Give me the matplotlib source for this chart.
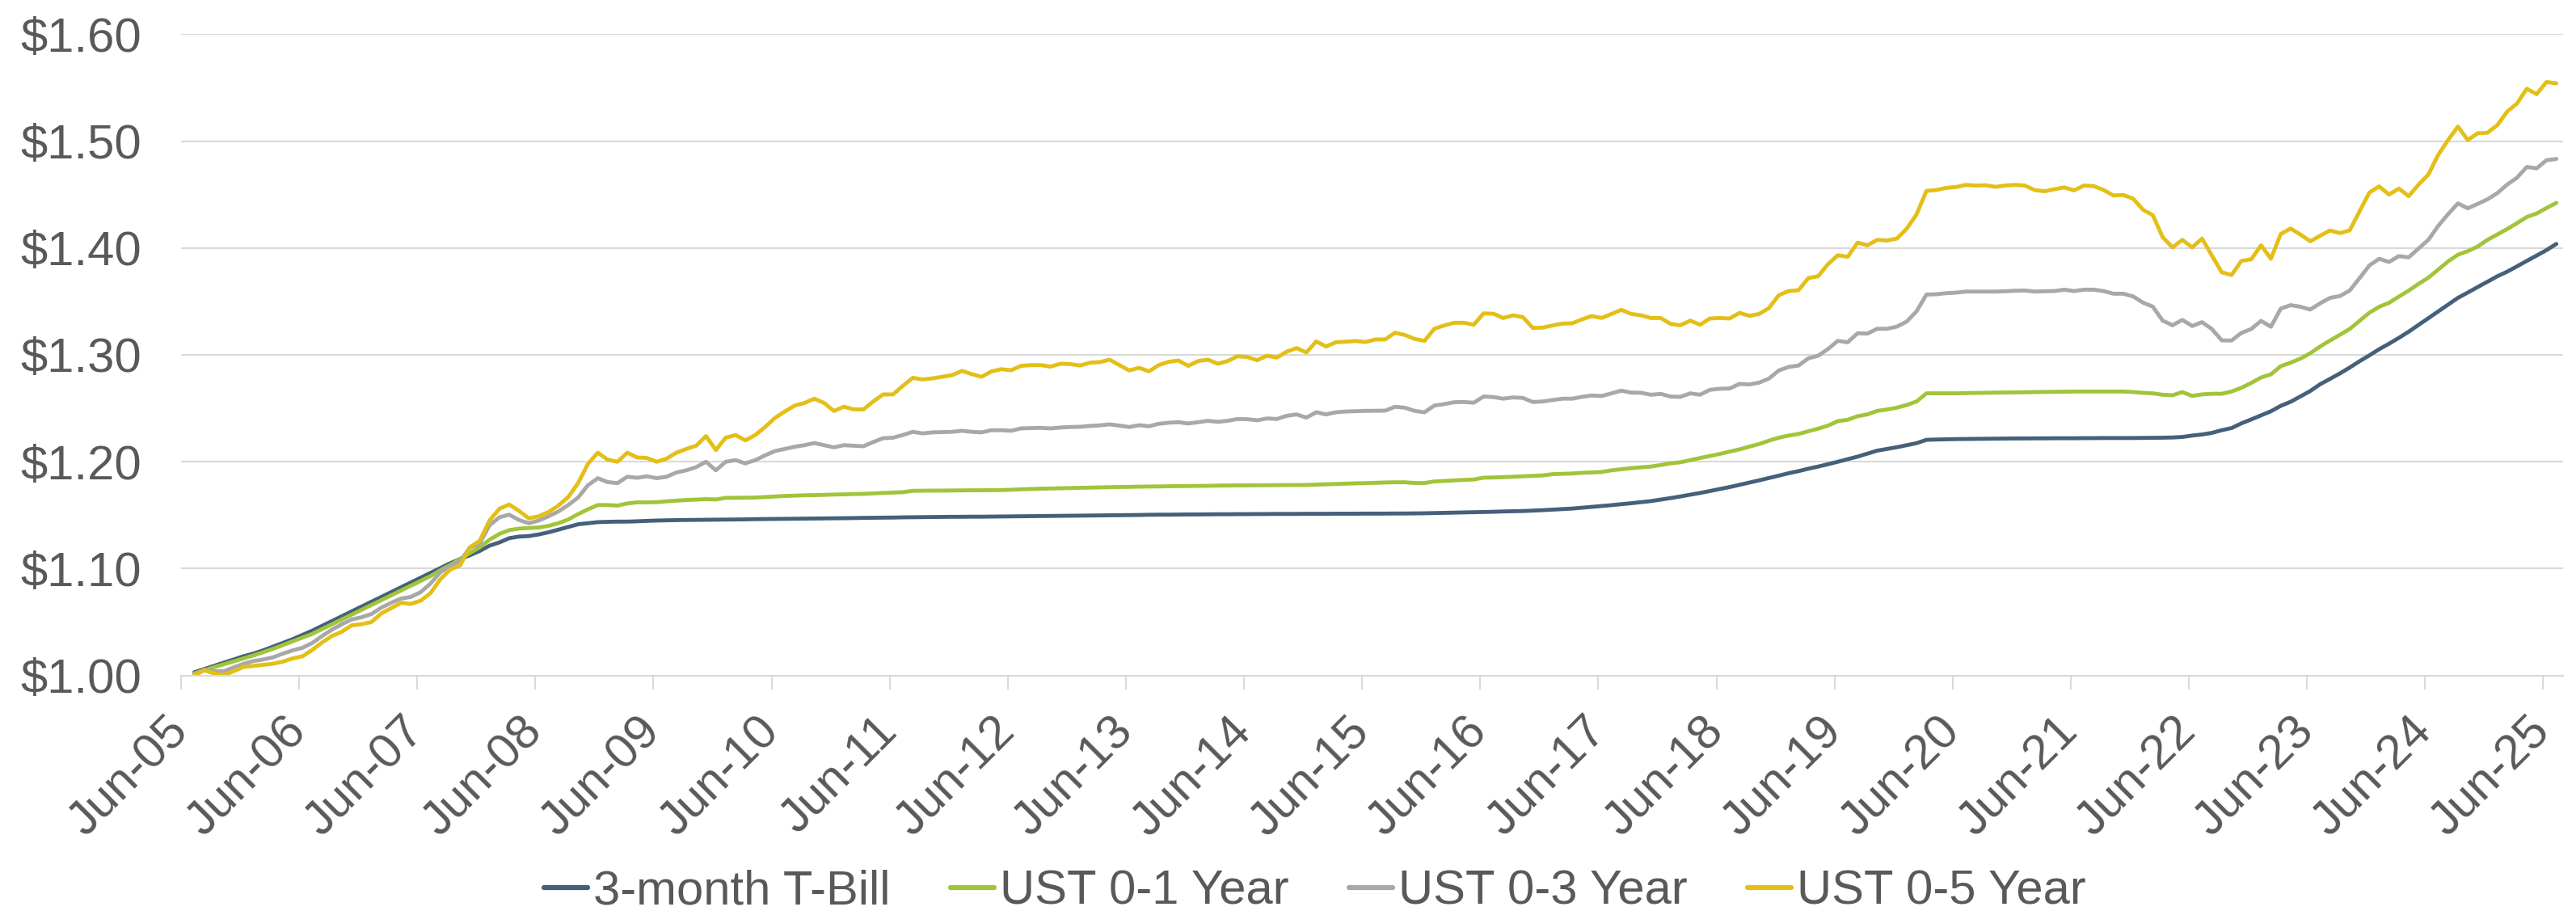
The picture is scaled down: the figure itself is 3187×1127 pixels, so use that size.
import numpy as np
import matplotlib
matplotlib.use("Agg")
import matplotlib.pyplot as plt
from matplotlib.ticker import FuncFormatter

plt.rcParams['font.family'] = ['Liberation Sans', 'DejaVu Sans']

# monthly growth of $1, Jul-05 .. Jul-25
tbill_3m = [
    1.003, 1.006, 1.009, 1.012, 1.015, 1.018, 1.0205, 1.0235, 1.027, 1.0305, 1.034, 1.038,
    1.042, 1.0465, 1.051, 1.0555, 1.060, 1.0645, 1.069, 1.0735, 1.078, 1.0825, 1.087, 1.0915,
    1.096, 1.1005, 1.105, 1.109, 1.1125, 1.1165, 1.1215, 1.1245, 1.1285, 1.130, 1.1305, 1.132,
    1.134, 1.1365, 1.139, 1.1415, 1.1425, 1.1435, 1.1438, 1.144, 1.144, 1.1443, 1.1447, 1.145,
    1.1452, 1.1454, 1.1455, 1.1456, 1.1457, 1.1458, 1.1459, 1.146, 1.1461, 1.1463, 1.1464, 1.1465,
    1.1466, 1.1467, 1.1468, 1.1469, 1.147, 1.1471, 1.1472, 1.1473, 1.1475, 1.1476, 1.1477, 1.1478,
    1.148, 1.1481, 1.1482, 1.1483, 1.1484, 1.1485, 1.1485, 1.1486, 1.1486, 1.1487, 1.1488, 1.1489,
    1.149, 1.1491, 1.1492, 1.1493, 1.1494, 1.1495, 1.1496, 1.1497, 1.1498, 1.1499, 1.15, 1.1501,
    1.1502, 1.1504, 1.1505, 1.1505, 1.1506, 1.1507, 1.1507, 1.1508, 1.1509, 1.1509, 1.151, 1.151,
    1.1511, 1.1511, 1.1512, 1.1512, 1.1512, 1.1513, 1.1513, 1.1513, 1.1514, 1.1514, 1.1514, 1.1515,
    1.1515, 1.1515, 1.1516, 1.1516, 1.1517, 1.1518, 1.152, 1.1522, 1.1524, 1.1526, 1.1528, 1.153,
    1.1532, 1.1535, 1.1537, 1.1539, 1.1543, 1.1547, 1.1552, 1.1557, 1.1562, 1.157, 1.1578, 1.1586,
    1.1594, 1.1603, 1.1612, 1.1622, 1.1632, 1.1646, 1.166, 1.1675, 1.1692, 1.1708, 1.1726, 1.1745,
    1.1763, 1.1784, 1.1805, 1.1826, 1.1848, 1.187, 1.1893, 1.1912, 1.1935, 1.1955, 1.1977, 1.2,
    1.2024, 1.2048, 1.2076, 1.2104, 1.212, 1.2136, 1.2155, 1.2174, 1.2205, 1.2208, 1.221, 1.2212,
    1.2213, 1.2214, 1.2215, 1.2216, 1.2217, 1.2218, 1.2218, 1.2219, 1.2219, 1.222, 1.222, 1.222,
    1.2221, 1.2221, 1.2222, 1.2222, 1.2222, 1.2222, 1.2223, 1.2224, 1.2225, 1.2227, 1.2232, 1.2245,
    1.2255, 1.227, 1.2295, 1.2315, 1.2359, 1.2396, 1.2434, 1.2472, 1.2523, 1.2561, 1.2611, 1.2662,
    1.2725, 1.2775, 1.2826, 1.2881, 1.294, 1.2995, 1.3053, 1.3104, 1.3159, 1.3217, 1.328, 1.3343,
    1.3407, 1.347, 1.3533, 1.3583, 1.3634, 1.3684, 1.3735, 1.3778, 1.3828, 1.3879, 1.3929, 1.398,
    1.4038,
]

ust_0_1 = [
    1.002, 1.005, 1.0078, 1.0105, 1.0133, 1.016, 1.0188, 1.0218, 1.025, 1.0285, 1.032, 1.0355,
    1.039, 1.0435, 1.048, 1.0525, 1.057, 1.0615, 1.066, 1.0705, 1.075, 1.0795, 1.084, 1.0885,
    1.093, 1.0985, 1.1035, 1.109, 1.1145, 1.12, 1.127, 1.1325, 1.136, 1.1375, 1.138, 1.1385,
    1.140, 1.1425, 1.146, 1.151, 1.1555, 1.1595, 1.1595, 1.159, 1.161, 1.162, 1.162, 1.1622,
    1.163, 1.1636, 1.1642, 1.1646, 1.165, 1.1647, 1.1662, 1.1663, 1.1664, 1.1665, 1.167, 1.1675,
    1.168, 1.1683, 1.1686, 1.1688, 1.169, 1.1693, 1.1695, 1.1698, 1.170, 1.1704, 1.1708, 1.1712,
    1.1715, 1.1728, 1.1729, 1.173, 1.173, 1.1731, 1.1732, 1.1733, 1.1733, 1.1734, 1.1735, 1.1738,
    1.1742, 1.1745, 1.1748, 1.175, 1.1752, 1.1754, 1.1756, 1.1758, 1.176, 1.1762, 1.1764, 1.1765,
    1.1767, 1.1768, 1.1769, 1.1771, 1.1772, 1.1773, 1.1774, 1.1775, 1.1777, 1.1778, 1.1779, 1.1779,
    1.178, 1.178, 1.1781, 1.1782, 1.1782, 1.1783, 1.1786, 1.1789, 1.1792, 1.1795, 1.1798, 1.18,
    1.1803, 1.1806, 1.1808, 1.1808, 1.1801, 1.1801, 1.1816, 1.182, 1.1826, 1.183, 1.1834, 1.1851,
    1.1853, 1.1856, 1.186, 1.1864, 1.1868, 1.1872, 1.1884, 1.1887, 1.189, 1.1897, 1.19, 1.1904,
    1.192, 1.193, 1.194, 1.1948, 1.1955, 1.197, 1.1985, 1.1995, 1.2015, 1.2035, 1.2054, 1.2073,
    1.2095, 1.2116, 1.2141, 1.2166, 1.2197, 1.2225, 1.2245, 1.226, 1.2285, 1.231, 1.2338, 1.238,
    1.2393, 1.2426, 1.2443, 1.2476, 1.2489, 1.2506, 1.2531, 1.2564, 1.264, 1.264, 1.264, 1.264,
    1.2642, 1.2644, 1.2645, 1.2647, 1.2648, 1.2649, 1.265, 1.2652, 1.2653, 1.2654, 1.2655, 1.2657,
    1.2657, 1.2657, 1.2657, 1.2657, 1.2657, 1.2652, 1.2645, 1.264, 1.2627, 1.2622, 1.2652, 1.2616,
    1.263, 1.2636, 1.2636, 1.2657, 1.2692, 1.2737, 1.2788, 1.2818, 1.2894, 1.2927, 1.2965, 1.3015,
    1.3078, 1.3134, 1.3187, 1.3242, 1.3318, 1.3394, 1.345, 1.3487, 1.3545, 1.3601, 1.3664, 1.3722,
    1.3798, 1.3874, 1.3937, 1.397, 1.4013, 1.4076, 1.4126, 1.4177, 1.4232, 1.429, 1.4323, 1.4374,
    1.4422,
]

ust_0_3 = [
    1.000, 1.0055, 1.004, 1.004, 1.0075, 1.011, 1.0135, 1.015, 1.017, 1.0205, 1.0235, 1.026,
    1.0305, 1.037, 1.043, 1.048, 1.0525, 1.0545, 1.0575, 1.0635, 1.068, 1.072, 1.0735, 1.078,
    1.086, 1.0965, 1.1025, 1.107, 1.1195, 1.1235, 1.1405, 1.148, 1.1505, 1.1455, 1.1425, 1.145,
    1.149, 1.1535, 1.1595, 1.1665, 1.178, 1.1846, 1.181, 1.180, 1.186, 1.185, 1.1864, 1.1846,
    1.186, 1.190, 1.192, 1.195, 1.200, 1.192, 1.200, 1.2015, 1.1985, 1.2015, 1.206, 1.210,
    1.212, 1.214, 1.2155, 1.2175, 1.2155, 1.2135, 1.2155, 1.215, 1.2145, 1.2185, 1.222, 1.2225,
    1.225, 1.228, 1.2265, 1.2275, 1.2277, 1.228, 1.229, 1.228, 1.2275, 1.2295, 1.2295, 1.229,
    1.2312, 1.2315, 1.2317, 1.2312, 1.232, 1.2325, 1.2327, 1.2335, 1.234, 1.235, 1.2338, 1.2325,
    1.2342, 1.2332, 1.2355, 1.2365, 1.237, 1.2358, 1.237, 1.2383, 1.2373, 1.2383, 1.240, 1.2398,
    1.2388, 1.2405, 1.240, 1.243, 1.2443, 1.2413, 1.2463, 1.2443, 1.2463, 1.247, 1.2473, 1.2476,
    1.2477, 1.2478, 1.2514, 1.2506, 1.2476, 1.2463, 1.2526, 1.2539, 1.2557, 1.2559, 1.2552, 1.261,
    1.2605, 1.259, 1.2602, 1.2597, 1.2559, 1.2564, 1.2577, 1.259, 1.259, 1.2607, 1.262, 1.2615,
    1.264, 1.2665, 1.2647, 1.2645, 1.2627, 1.2635, 1.261, 1.2607, 1.264, 1.2627, 1.2673, 1.2683,
    1.2685, 1.2728, 1.2723, 1.274, 1.2778, 1.2854, 1.2887, 1.29, 1.2967, 1.2992, 1.3055, 1.3131,
    1.3118, 1.3202, 1.3199, 1.3244, 1.3244, 1.3264, 1.3312, 1.3408, 1.3564, 1.3567, 1.3577, 1.3582,
    1.3592, 1.3592, 1.3592, 1.3592, 1.3595, 1.360, 1.3602, 1.3592, 1.3595, 1.3597, 1.361, 1.3597,
    1.361, 1.361, 1.3597, 1.3572, 1.3572, 1.3547, 1.3489, 1.3451, 1.332, 1.3277, 1.3327, 1.327,
    1.3306, 1.3242, 1.3136, 1.3134, 1.3205, 1.3242, 1.3318, 1.3263, 1.3432, 1.3465, 1.345, 1.3424,
    1.3482, 1.3533, 1.355, 1.3601, 1.3717, 1.3836, 1.3899, 1.3869, 1.3924, 1.3912, 1.3995, 1.4076,
    1.4207, 1.4316, 1.4417, 1.4371, 1.4412, 1.4455, 1.4513, 1.4593, 1.4657, 1.4758, 1.4745, 1.4821,
    1.4833,
]

ust_0_5 = [
    1.000, 1.005, 1.002, 1.0005, 1.004, 1.008, 1.009, 1.010, 1.011, 1.013, 1.016, 1.018,
    1.024, 1.031, 1.037, 1.041, 1.047, 1.048, 1.050, 1.058, 1.063, 1.068, 1.067, 1.070,
    1.077, 1.090, 1.099, 1.103, 1.120, 1.126, 1.145, 1.156, 1.160, 1.154, 1.147, 1.149,
    1.153, 1.159, 1.167, 1.180, 1.198, 1.2085, 1.202, 1.200, 1.2085, 1.204, 1.2035, 1.200,
    1.203, 1.2085, 1.212, 1.215, 1.224, 1.211, 1.2225, 1.225, 1.220, 1.225, 1.2325, 1.241,
    1.247, 1.2525, 1.255, 1.259, 1.255, 1.2475, 1.2515, 1.249, 1.249, 1.2565, 1.263, 1.263,
    1.271, 1.2785, 1.277, 1.278, 1.2795, 1.281, 1.285, 1.282, 1.2795, 1.2845, 1.2866, 1.2856,
    1.2897, 1.2904, 1.2904, 1.289, 1.2917, 1.2914, 1.290, 1.2927, 1.2932, 1.2955, 1.2904, 1.2854,
    1.2879, 1.2846, 1.2904, 1.2935, 1.2947, 1.2897, 1.2942, 1.2955, 1.2917, 1.2942, 1.2987, 1.298,
    1.295, 1.2992, 1.2975, 1.303, 1.3063, 1.3023, 1.3126, 1.3078, 1.3118, 1.3123, 1.313, 1.312,
    1.3144, 1.3144, 1.3207, 1.3186, 1.3149, 1.3131, 1.3244, 1.3275, 1.330, 1.330, 1.3282, 1.3388,
    1.3385, 1.3345, 1.337, 1.3353, 1.3252, 1.3255, 1.3275, 1.3292, 1.3295, 1.3332, 1.3363, 1.3345,
    1.3383, 1.3421, 1.3383, 1.337, 1.3345, 1.3345, 1.329, 1.3277, 1.332, 1.3282, 1.334, 1.3345,
    1.334, 1.3393, 1.3365, 1.3383, 1.3438, 1.3559, 1.3597, 1.3605, 1.3718, 1.3736, 1.3849, 1.3932,
    1.3917, 1.405, 1.4025, 1.4076, 1.407, 1.4088, 1.4181, 1.4315, 1.4534, 1.4542, 1.4562, 1.457,
    1.459, 1.4584, 1.4587, 1.4572, 1.4584, 1.459, 1.4584, 1.4542, 1.4531, 1.4549, 1.4567, 1.4539,
    1.4584, 1.4579, 1.4542, 1.4491, 1.4496, 1.4461, 1.4358, 1.4307, 1.4101, 1.4005, 1.4076, 1.4005,
    1.4088, 1.393, 1.3773, 1.3747, 1.3879, 1.3894, 1.4025, 1.3899, 1.4131, 1.4182, 1.4126, 1.4063,
    1.4114, 1.4164, 1.4139, 1.4164, 1.4341, 1.4518, 1.4576, 1.45, 1.4556, 1.4485, 1.4593, 1.4687,
    1.4871, 1.501, 1.5136, 1.501, 1.5073, 1.5078, 1.5149, 1.5275, 1.5351, 1.549, 1.5439, 1.5553,
    1.554,
]

series_names = ["3-month T-Bill", "UST 0-1 Year", "UST 0-3 Year", "UST 0-5 Year"]
series_colors = ["#44607A", "#A2C43A", "#A8A8A8", "#E3BF17"]
tick_labels = ["Jun-%02d" % y for y in range(5, 26)]

TXT = "#595959"
GRID = "#D9D9D9"
FS = 43

W, H = 3187, 1127
fig = plt.figure(figsize=(W / 100, H / 100), dpi=100)
ax = fig.add_axes([224 / W, 1 - 835.7 / H, (3170.7 - 224) / W, (835.7 - 42.3) / H])

# x = months after the Jun-05 tick; first point sits a little after it
x = np.arange(len(ust_0_5)) + 1.34
for vals, name, col in zip([tbill_3m, ust_0_1, ust_0_3, ust_0_5], series_names, series_colors):
    ax.plot(x, vals, color=col, lw=3.5, label=name,
            solid_joinstyle="round", solid_capstyle="round")

ax.set_xlim(0, 242.0)
ax.set_ylim(1.0, 1.6)
ax.set_yticks(np.arange(1.0, 1.601, 0.1))
ax.yaxis.set_major_formatter(FuncFormatter(lambda v, p: "${:.2f}".format(v)))
ax.set_xticks(np.arange(0, 241, 12))
ax.set_xticklabels(tick_labels)

ax.yaxis.grid(True, color=GRID, lw=1.5)
ax.set_axisbelow(True)
for s in ["top", "right", "left"]:
    ax.spines[s].set_visible(False)
ax.spines["bottom"].set_color(GRID)
ax.spines["bottom"].set_linewidth(1.5)

ax.tick_params(axis="y", length=0, pad=35, labelsize=FS, labelcolor=TXT)
ax.tick_params(axis="x", length=12.5, width=1.5, color=GRID, direction="out",
               pad=31, labelsize=FS, labelcolor=TXT)
for lab in ax.get_xticklabels():
    lab.set_rotation(45)
    lab.set_ha("right")
    lab.set_va("center")
    lab.set_rotation_mode("anchor")

leg = fig.legend(loc="center", bbox_to_anchor=(0.5105, 0.021), ncol=4, frameon=False,
                 fontsize=FS, handlelength=0.9, handletextpad=0.12, columnspacing=1.25,
                 borderpad=0)
for t in leg.get_texts():
    t.set_color(TXT)
for h in leg.legend_handles:
    h.set_linewidth(4.5)

fig.savefig("out.png", dpi=100)
